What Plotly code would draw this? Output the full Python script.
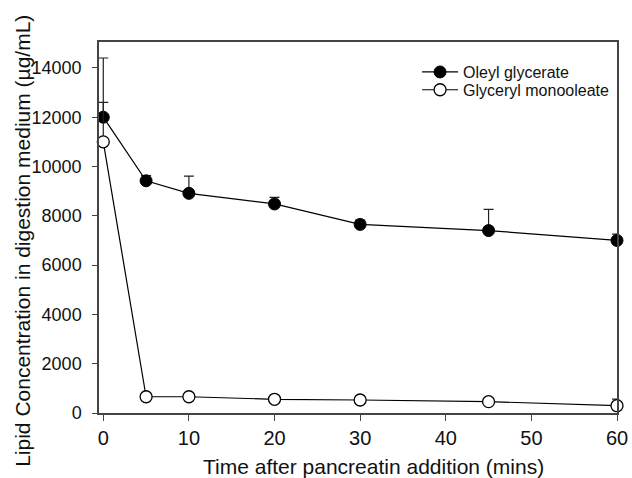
import plotly.graph_objects as go

time = [0, 5, 10, 20, 30, 45, 60]
oleyl = [12000, 9420, 8910, 8480, 7650, 7400, 7000]
oleyl_err = [2400, 210, 700, 270, 180, 860, 260]
gmo = [11000, 660, 660, 555, 527, 460, 296]
gmo_err = [1600, 0, 0, 0, 0, 0, 270]

x_ticks = [0, 10, 20, 30, 40, 50, 60]
y_ticks = [0, 2000, 4000, 6000, 8000, 10000, 12000, 14000]

x_title = "Time after pancreatin addition (mins)"
y_title = "Lipid Concentration in digestion medium (\u00b5g/mL)"

FONT = "Liberation Sans, Arial, sans-serif"

filled_marker = dict(symbol="circle", size=12, color="#000000", line=dict(color="#000000", width=1))
open_marker = dict(symbol="circle", size=12, color="#ffffff", line=dict(color="#000000", width=1.3))
data_line = dict(color="#000000", width=1.2)

fig = go.Figure()
fig.add_trace(go.Scatter(
    x=time, y=oleyl, name="Oleyl glycerate", mode="lines+markers",
    line=data_line, marker=filled_marker, showlegend=False,
    error_y=dict(type="data", array=oleyl_err, symmetric=False, arrayminus=[0]*7,
                 color="#222222", thickness=1.2, width=5),
    cliponaxis=False,
))
fig.add_trace(go.Scatter(
    x=time, y=gmo, name="Glyceryl monooleate", mode="lines+markers",
    line=data_line, marker=open_marker, showlegend=False,
    error_y=dict(type="data", array=gmo_err, symmetric=False, arrayminus=[0]*7,
                 color="#222222", thickness=1.2, width=5),
    cliponaxis=False,
))
# legend-only entries (no error bars in the legend symbol)
fig.add_trace(go.Scatter(x=[None], y=[None], name="Oleyl glycerate", mode="lines+markers",
                         line=data_line, marker=filled_marker, legend="legend"))
fig.add_trace(go.Scatter(x=[None], y=[None], name="Glyceryl monooleate", mode="lines+markers",
                         line=data_line, marker=open_marker, legend="legend2"))

leg_common = dict(xanchor="left", yanchor="middle", bgcolor="rgba(0,0,0,0)",
                  font=dict(size=16, family=FONT, color="#111111"), itemwidth=36)

fig.update_layout(
    width=632, height=478,
    margin=dict(l=99, r=15, t=42, b=65, autoexpand=False),
    paper_bgcolor="white", plot_bgcolor="white",
    font=dict(family=FONT, color="#111111", size=18),
    showlegend=True,
    legend=dict(x=0.614, y=0.919, **leg_common),
    legend2=dict(x=0.614, y=0.871, **leg_common),
    xaxis=dict(range=[-0.5, 60], tickvals=x_ticks, ticktext=[str(v) for v in x_ticks],
               showgrid=False, zeroline=False, showline=True, linecolor="#444444", linewidth=1.5,
               mirror=True, ticks="outside", ticklen=6, tickcolor="#444444", tickwidth=1.2,
               automargin=False, tickfont=dict(size=20)),
    yaxis=dict(range=[0, 15050], tickvals=y_ticks, ticktext=[str(v) for v in y_ticks],
               showgrid=False, zeroline=False, showline=True, linecolor="#444444", linewidth=1.5,
               mirror=True, ticks="outside", ticklen=5, tickcolor="#444444", tickwidth=1.2,
               automargin=False, ticklabelstandoff=7, tickfont=dict(size=18)),
    annotations=[
        dict(text=x_title, xref="paper", yref="paper", x=0.53, y=-0.1429,
             xanchor="center", yanchor="middle", showarrow=False, font=dict(size=21)),
        dict(text=y_title, xref="paper", yref="paper", x=-0.149, y=0.4636, textangle=-90,
             xanchor="center", yanchor="middle", showarrow=False, font=dict(size=21)),
    ],
)

fig.write_html("out.html", config={"displayModeBar": False},
               post_script="document.body.style.margin='0';")
